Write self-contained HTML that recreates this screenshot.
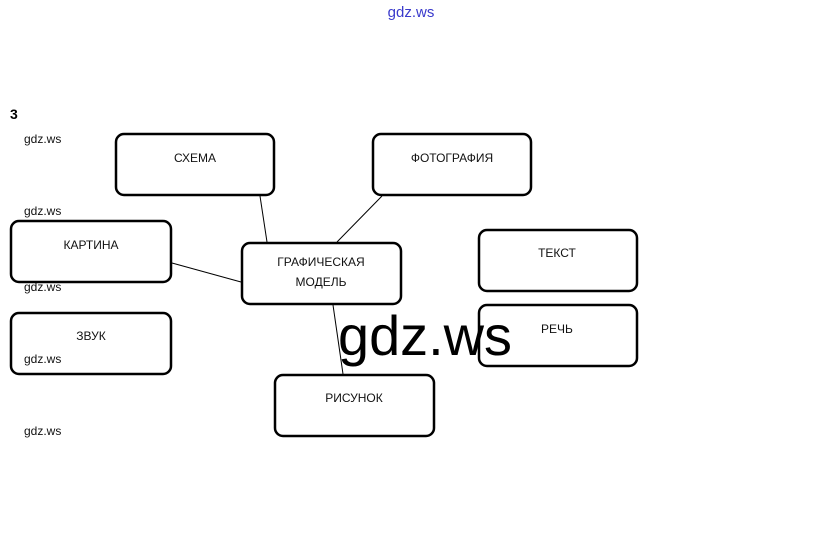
<!DOCTYPE html>
<html><head><meta charset="utf-8"><style>
html,body{margin:0;padding:0;background:#fff;}
svg{display:block;}
text{font-family:"Liberation Sans","DejaVu Sans",sans-serif;}
</style></head><body>
<svg width="823" height="548" viewBox="0 0 823 548" xmlns="http://www.w3.org/2000/svg">
<rect width="823" height="548" fill="#fff"/>
<text x="411" y="17" font-size="15" fill="#3a3acc" text-anchor="middle">gdz.ws</text>
<text x="10" y="119" font-size="14" font-weight="bold">3</text>
<g font-size="12" fill="#111">
<text x="24" y="143">gdz.ws</text>
<text x="24" y="215">gdz.ws</text>
<text x="24" y="291">gdz.ws</text>
<text x="24" y="363">gdz.ws</text>
<text x="24" y="435">gdz.ws</text>
</g>
<g stroke="#000" stroke-width="1" fill="none">
<line x1="260" y1="196" x2="267" y2="242"/>
<line x1="382" y1="196" x2="337" y2="242"/>
<line x1="172" y1="263" x2="241" y2="282"/>
<line x1="333" y1="305" x2="343" y2="374"/>
</g>
<g stroke="#000" stroke-width="2.5" fill="none">
<rect x="116" y="134" width="158" height="61" rx="8"/>
<rect x="373" y="134" width="158" height="61" rx="8"/>
<rect x="11" y="221" width="160" height="61" rx="8"/>
<rect x="242" y="243" width="159" height="61" rx="8"/>
<rect x="479" y="230" width="158" height="61" rx="8"/>
<rect x="479" y="305" width="158" height="61" rx="8"/>
<rect x="11" y="313" width="160" height="61" rx="8"/>
<rect x="275" y="375" width="159" height="61" rx="8"/>
</g>
<g font-size="12" fill="#111" text-anchor="middle">
<text x="195" y="162">СХЕМА</text>
<text x="452" y="162">ФОТОГРАФИЯ</text>
<text x="91" y="249">КАРТИНА</text>
<text x="321" y="266">ГРАФИЧЕСКАЯ</text>
<text x="321" y="286">МОДЕЛЬ</text>
<text x="557" y="257">ТЕКСТ</text>
<text x="557" y="333">РЕЧЬ</text>
<text x="91" y="340">ЗВУК</text>
<text x="354" y="402">РИСУНОК</text>
</g>
<text x="425" y="355" font-size="56" fill="#000" text-anchor="middle" textLength="174" lengthAdjust="spacingAndGlyphs">gdz.ws</text>
</svg>
</body></html>
